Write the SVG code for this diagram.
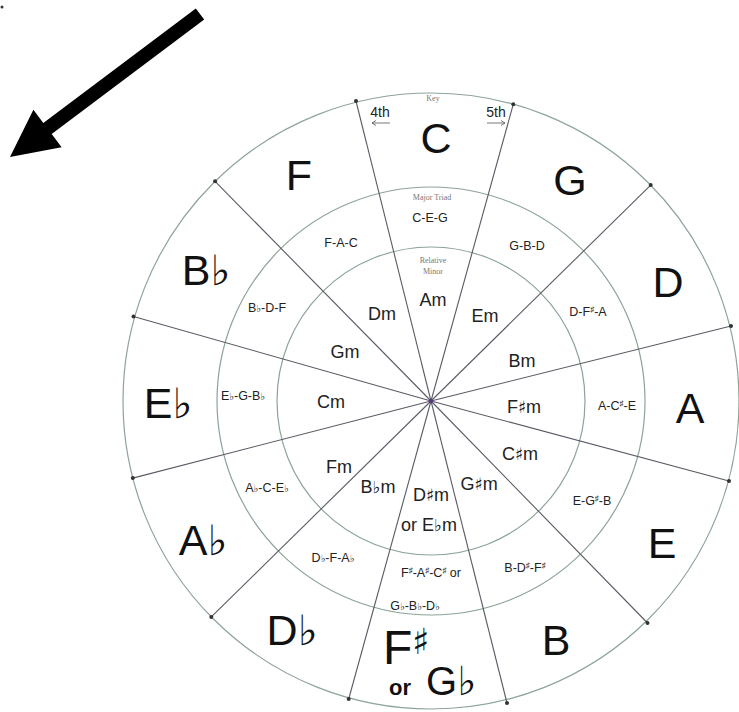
<svg xmlns="http://www.w3.org/2000/svg" width="739" height="712" viewBox="0 0 739 712">
<defs>
<style>
.ring{fill:none;stroke:#8da497;stroke-width:1.2}
.spoke{stroke:#5a5a66;stroke-width:1.1}
.dot{fill:#333}
.key{font-family:"Liberation Sans",Arial,sans-serif;font-size:43px;fill:#111;text-anchor:middle}
.flat{font-family:"DejaVu Sans",sans-serif;fill:#111}
.tri{font-family:"Liberation Sans",Arial,sans-serif;font-size:12.5px;fill:#222;text-anchor:middle}
.min{font-family:"Liberation Sans",Arial,sans-serif;font-size:18px;fill:#222;text-anchor:middle}
.tiny{font-family:"Liberation Serif",serif;font-size:8px;fill:#777;text-anchor:middle}
.lbl{font-family:"Liberation Sans",Arial,sans-serif;font-size:14px;fill:#222;text-anchor:middle}
.sm{stroke:#555;stroke-width:0.8;fill:none}
</style>
</defs>
<rect width="739" height="712" fill="#fff"/>
<circle cx="2" cy="7" r="1.5" fill="#333"/>
<polygon points="195.8,8.4 204.2,19.6 51.7,134.1 61.6,147.3 10,157 33.4,109.7 43.3,122.9" fill="#000"/>
<g id="rings">
<circle class="ring" cx="431" cy="401" r="308"/>
<circle class="ring" cx="431" cy="401" r="214"/>
<circle class="ring" cx="431" cy="401" r="154"/>
</g>
<g id="connectors">
<line class="spoke" x1="431" y1="401" x2="513.3" y2="104.2"/>
<line class="spoke" x1="431" y1="401" x2="650.7" y2="185.1"/>
<line class="spoke" x1="431" y1="401" x2="731" y2="326"/>
<line class="spoke" x1="431" y1="401" x2="729" y2="481"/>
<line class="spoke" x1="431" y1="401" x2="647.5" y2="623"/>
<line class="spoke" x1="431" y1="401" x2="507" y2="703"/>
<line class="spoke" x1="431" y1="401" x2="348.7" y2="699"/>
<line class="spoke" x1="431" y1="401" x2="211.3" y2="616.9"/>
<line class="spoke" x1="431" y1="401" x2="132.8" y2="478.1"/>
<line class="spoke" x1="431" y1="401" x2="133.5" y2="316.5"/>
<line class="spoke" x1="431" y1="401" x2="215.1" y2="181.3"/>
<line class="spoke" x1="431" y1="401" x2="356" y2="101"/>
<circle class="dot" cx="513.3" cy="104.2" r="2"/>
<circle class="dot" cx="650.7" cy="185.1" r="2"/>
<circle class="dot" cx="731" cy="326" r="2"/>
<circle class="dot" cx="729" cy="481" r="2"/>
<circle class="dot" cx="647.5" cy="623" r="2"/>
<circle class="dot" cx="507" cy="703" r="2"/>
<circle class="dot" cx="348.7" cy="699" r="2"/>
<circle class="dot" cx="211.3" cy="616.9" r="2"/>
<circle class="dot" cx="132.8" cy="478.1" r="2"/>
<circle class="dot" cx="133.5" cy="316.5" r="2"/>
<circle class="dot" cx="215.1" cy="181.3" r="2"/>
<circle class="dot" cx="356" cy="101" r="2"/>
<circle cx="431" cy="401" r="2.2" fill="#5a3a80"/>
</g>
<g id="sector-C">
<text class="tiny" x="433" y="101">Key</text>
<text class="lbl" x="380" y="117">4th</text>
<path class="sm" d="M390,123 H372 M376,120.5 L372,123 L376,125.5"/>
<text class="lbl" x="496" y="117">5th</text>
<path class="sm" d="M487,123 H505 M501,120.5 L505,123 L501,125.5"/>
<text class="key" x="436" y="153">C</text>
<text class="tiny" x="432" y="200">Major Triad</text>
<text class="tri" x="430" y="222">C-E-G</text>
<text class="tiny" x="433" y="263">Relative</text>
<text class="tiny" x="433" y="274">Minor</text>
<text class="min" x="433" y="306">Am</text>
</g>
<g id="sector-G">
<text class="key" x="570" y="195">G</text>
<text class="tri" x="527" y="250">G-B-D</text>
<text class="min" x="485" y="322">Em</text>
</g>
<g id="sector-D">
<text class="key" x="668" y="297">D</text>
<text class="tri" x="588" y="316">D-F<tspan font-size="8" dy="-4">♯</tspan><tspan dy="4">-A</tspan></text>
<text class="min" x="522" y="367">Bm</text>
</g>
<g id="sector-A">
<text class="key" x="690" y="423">A</text>
<text class="tri" x="617" y="410">A-C<tspan font-size="8" dy="-4">♯</tspan><tspan dy="4">-E</tspan></text>
<text class="min" x="524" y="413">F<tspan class="flat" font-size="17">♯</tspan>m</text>
</g>
<g id="sector-E">
<text class="key" x="662" y="558">E</text>
<text class="tri" x="592" y="505">E-G<tspan font-size="8" dy="-4">♯</tspan><tspan dy="4">-B</tspan></text>
<text class="min" x="520" y="460">C<tspan class="flat" font-size="17">♯</tspan>m</text>
</g>
<g id="sector-B">
<text class="key" x="556" y="655">B</text>
<text class="tri" x="525" y="572">B-D<tspan font-size="8" dy="-4">♯</tspan><tspan dy="4">-F</tspan><tspan font-size="8" dy="-4">♯</tspan></text>
<text class="min" x="479" y="490">G<tspan class="flat" font-size="17">♯</tspan>m</text>
</g>
<g id="sector-Fsharp">
<text font-family="Liberation Sans,Arial,sans-serif" fill="#111" text-anchor="start"><tspan x="383" y="664" font-size="48">F</tspan><tspan class="flat" font-size="36" dy="-10">♯</tspan><tspan x="389" y="695" font-size="22" font-weight="bold">or</tspan><tspan x="426" y="695" font-size="40">G</tspan><tspan class="flat" font-size="40">♭</tspan></text>
<text class="tri" x="431" y="577">F<tspan font-size="8" dy="-4">♯</tspan><tspan dy="4">-A</tspan><tspan font-size="8" dy="-4">♯</tspan><tspan dy="4">-C</tspan><tspan font-size="8" dy="-4">♯</tspan><tspan dy="4">  or</tspan></text>
<text class="tri" x="415" y="610">G<tspan class="flat" font-size="10">♭</tspan>-B<tspan class="flat" font-size="10">♭</tspan>-D<tspan class="flat" font-size="10">♭</tspan></text>
<text class="min" x="431" y="501">D<tspan class="flat" font-size="17">♯</tspan>m</text>
<text class="min" x="429" y="531">or E<tspan class="flat" font-size="17">♭</tspan>m</text>
</g>
<g id="sector-Db">
<text class="key" x="292" y="645">D<tspan class="flat" font-size="42">♭</tspan></text>
<text class="tri" x="333" y="562">D<tspan class="flat" font-size="10">♭</tspan>-F-A<tspan class="flat" font-size="10">♭</tspan></text>
<text class="min" x="378" y="493">B<tspan class="flat" font-size="17">♭</tspan>m</text>
</g>
<g id="sector-Ab">
<text class="key" x="203" y="555">A<tspan class="flat" font-size="42">♭</tspan></text>
<text class="tri" x="267" y="492">A<tspan class="flat" font-size="10">♭</tspan>-C-E<tspan class="flat" font-size="10">♭</tspan></text>
<text class="min" x="339" y="473">Fm</text>
</g>
<g id="sector-Eb">
<text class="key" x="168" y="418">E<tspan class="flat" font-size="42">♭</tspan></text>
<text class="tri" x="243" y="400">E<tspan class="flat" font-size="10">♭</tspan>-G-B<tspan class="flat" font-size="10">♭</tspan></text>
<text class="min" x="331" y="408">Cm</text>
</g>
<g id="sector-Bb">
<text class="key" x="206" y="285">B<tspan class="flat" font-size="42">♭</tspan></text>
<text class="tri" x="267" y="312">B<tspan class="flat" font-size="10">♭</tspan>-D-F</text>
<text class="min" x="345" y="358">Gm</text>
</g>
<g id="sector-F">
<text class="key" x="299" y="190">F</text>
<text class="tri" x="341" y="247">F-A-C</text>
<text class="min" x="382" y="320">Dm</text>
</g>
</svg>
